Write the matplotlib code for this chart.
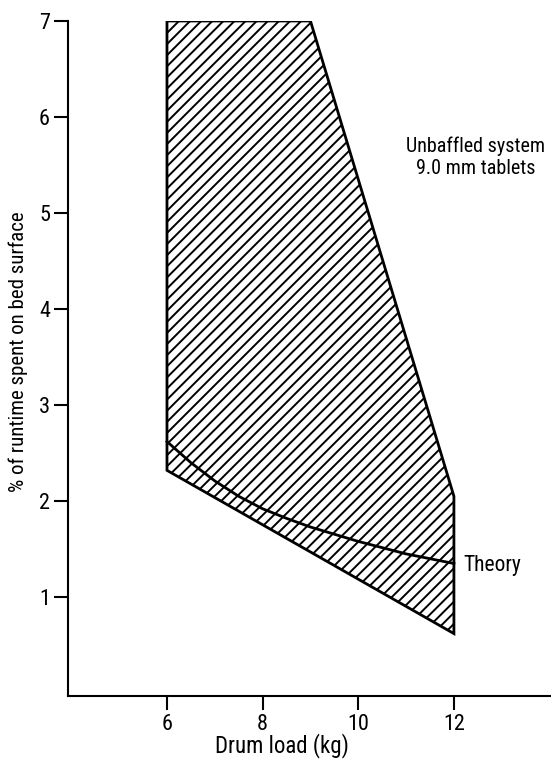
import matplotlib
matplotlib.use("Agg")
import matplotlib.pyplot as plt
import numpy as np

plt.rcParams['font.family'] = ['Roboto Condensed', 'DejaVu Sans']
plt.rcParams['hatch.linewidth'] = 1.4

# shaded band: upper boundary and lower boundary of measured values
upper_x = [6, 9, 12]
upper_y = [7.0, 7.0, 2.05]
lower_x = [6, 12]
lower_y = [2.32, 0.62]

# theoretical curve
theory_x = [6, 6.5, 7, 7.5, 8, 8.5, 9, 10, 11, 12]
theory_y = [2.62, 2.40, 2.21, 2.05, 1.92, 1.82, 1.73, 1.58, 1.45, 1.35]

xticks = [6, 8, 10, 12]
yticks = [1, 2, 3, 4, 5, 6, 7]

fig = plt.figure(figsize=(5.51, 7.63), dpi=100)
ax = fig.add_axes([0.1234, 0.0878, 0.8766, 0.8847])

poly_x = np.r_[upper_x, lower_x[::-1]]
poly_y = np.r_[upper_y, lower_y[::-1]]
ax.fill(poly_x, poly_y, fill=False, hatch='///', edgecolor='black', lw=2)
ax.plot(theory_x, theory_y, color='black', lw=2)

ax.set_xlim(3.93, 14.03)
ax.set_ylim(-0.03, 7)
ax.set_xticks(xticks)
ax.set_yticks(yticks)
ax.tick_params(length=10, width=1.5, labelsize=16, pad=3)

for s in ['top', 'right']:
    ax.spines[s].set_visible(False)
for s in ['left', 'bottom']:
    ax.spines[s].set_linewidth(1.5)

ax.set_xlabel('Drum load (kg)', fontsize=16.5)
ax.xaxis.set_label_coords(0.443, -0.055)
ax.set_ylabel('% of runtime spent on bed surface', fontsize=15)
ax.yaxis.set_label_coords(-0.083, 0.51)

ax.text(12.46, 5.58, 'Unbaffled system\n9.0 mm tablets', ha='center', va='center',
        fontsize=14.5, linespacing=1.25)
ax.text(12.2, 1.33, 'Theory', ha='left', va='center', fontsize=15.5)

fig.savefig('out.png', dpi=100)
